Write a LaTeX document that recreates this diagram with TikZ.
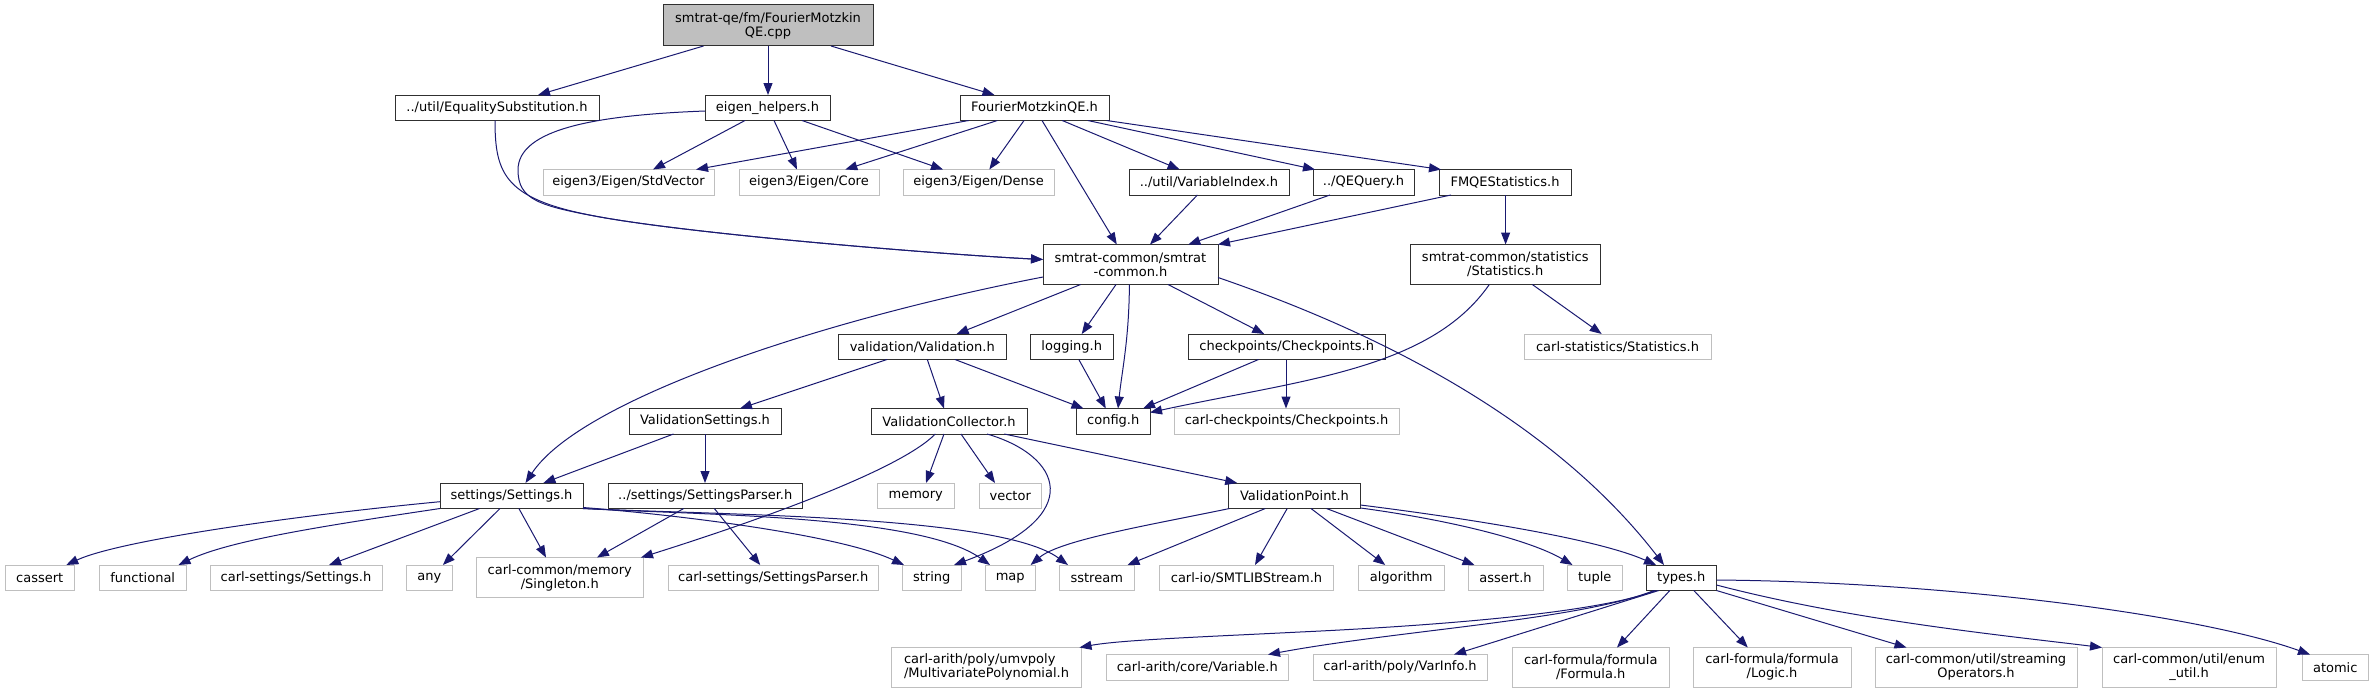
\documentclass[tikz,border=0pt]{standalone}
\usepackage{fontspec}
\setmainfont{DejaVu Sans}
\usetikzlibrary{arrows.meta}
\definecolor{edgec}{HTML}{191970}
\definecolor{greyb}{HTML}{BFBFBF}
\definecolor{bord}{HTML}{303030}
\tikzset{
  base/.style={rectangle, line width=1pt, inner sep=0pt, outer sep=0pt, font=\fontsize{13}{14}\selectfont, align=center, text=black},
  doc/.style={base, draw=bord},
  ext/.style={base, draw=greyb},
  rootn/.style={base, draw=bord, fill=greyb},
  e/.style={draw=edgec, line width=1pt, -{Triangle[length=12pt,width=9pt]}}
}
\newcommand\mynode[7]{\node[#1, minimum width={#4-#2}, minimum height={#5-#3}] (#6) at ({(#2+#4)/2},{(#3+#5)/2}) {#7};}
\begin{document}
\begin{tikzpicture}[x=1pt,y=-1pt]
\useasboundingbox (0,0) rectangle (2373,693);
% row 0
\mynode{rootn}{663}{5}{873}{46}{root}{smtrat-qe/fm/FourierMotzkin\\QE.cpp}
% row 1
\mynode{doc}{395}{95}{599}{120.5}{eq}{../util/EqualitySubstitution.h}
\mynode{doc}{705}{95}{830}{120.5}{eh}{eigen\_helpers.h}
\mynode{doc}{960}{95}{1109}{120.5}{fmqe}{FourierMotzkinQE.h}
% row 2
\mynode{ext}{543}{169.5}{714}{195}{stdv}{eigen3/Eigen/StdVector}
\mynode{ext}{739}{169.5}{879}{195}{core}{eigen3/Eigen/Core}
\mynode{ext}{903}{169.5}{1054}{195}{dense}{eigen3/Eigen/Dense}
\mynode{doc}{1129}{169.5}{1289}{195}{varidx}{../util/VariableIndex.h}
\mynode{doc}{1313}{169.5}{1414}{195}{qeq}{../QEQuery.h}
\mynode{doc}{1439}{169.5}{1571}{195}{fmst}{FMQEStatistics.h}
% row 3
\mynode{doc}{1043}{244.5}{1218}{284.5}{sc}{smtrat-common/smtrat\\-common.h}
\mynode{doc}{1410}{244.5}{1600.5}{284.5}{stat}{smtrat-common/statistics\\/Statistics.h}
% row 4
\mynode{doc}{838}{334}{1006.5}{359.5}{val}{validation/Validation.h}
\mynode{doc}{1030.5}{334}{1113}{359.5}{log}{logging.h}
\mynode{doc}{1188.5}{334}{1385}{359.5}{chk}{checkpoints/Checkpoints.h}
\mynode{ext}{1524}{334}{1711}{359.5}{cstat}{carl-statistics/Statistics.h}
% row 5
\mynode{doc}{629}{408.5}{781}{434}{vset}{ValidationSettings.h}
\mynode{doc}{871}{408.5}{1027}{434}{vcol}{ValidationCollector.h}
\mynode{doc}{1076.5}{408.5}{1150}{434}{cfg}{config.h}
\mynode{ext}{1174}{408.5}{1399}{434}{cchk}{carl-checkpoints/Checkpoints.h}
% row 6
\mynode{doc}{440}{483}{583}{508.5}{set}{settings/Settings.h}
\mynode{doc}{608}{483}{802.5}{508.5}{spar}{../settings/SettingsParser.h}
\mynode{ext}{877.5}{483}{954}{508.5}{mem}{memory}
\mynode{ext}{979.5}{483}{1041}{508.5}{vec}{vector}
\mynode{doc}{1228.5}{483}{1360.5}{508.5}{vpt}{ValidationPoint.h}
% row 7
\mynode{ext}{5}{565}{74.5}{590.5}{cassert}{cassert}
\mynode{ext}{99.5}{565}{186}{590.5}{functional}{functional}
\mynode{ext}{210}{565}{382}{590.5}{csset}{carl-settings/Settings.h}
\mynode{ext}{406}{565}{452.5}{590.5}{any}{any}
\mynode{ext}{476.5}{557.5}{643}{597.5}{single}{carl-common/memory\\/Singleton.h}
\mynode{ext}{668}{565}{878.5}{590.5}{cspar}{carl-settings/SettingsParser.h}
\mynode{ext}{902.5}{565}{961}{590.5}{string}{string}
\mynode{ext}{985}{565}{1035.5}{590.5}{map}{map}
\mynode{ext}{1059.5}{565}{1134}{590.5}{sstream}{sstream}
\mynode{ext}{1159.5}{565}{1333.5}{590.5}{smtlib}{carl-io/SMTLIBStream.h}
\mynode{ext}{1358.5}{565}{1444}{590.5}{algo}{algorithm}
\mynode{ext}{1468}{565}{1543}{590.5}{asserth}{assert.h}
\mynode{ext}{1567.5}{565}{1622}{590.5}{tuple}{tuple}
\mynode{doc}{1646}{565}{1716.5}{590.5}{types}{types.h}
% row 8
\mynode{ext, align=left}{891.5}{647.5}{1081.5}{687}{mvp}{carl-arith/poly/umvpoly\\/MultivariatePolynomial.h}
\mynode{ext}{1106}{654.5}{1288.5}{680}{var}{carl-arith/core/Variable.h}
\mynode{ext}{1313}{654.5}{1487}{680}{varinfo}{carl-arith/poly/VarInfo.h}
\mynode{ext}{1512}{647.5}{1669.5}{687}{formula}{carl-formula/formula\\/Formula.h}
\mynode{ext}{1693}{647.5}{1851}{687}{logic}{carl-formula/formula\\/Logic.h}
\mynode{ext}{1875}{647.5}{2077}{687}{stream}{carl-common/util/streaming\\Operators.h}
\mynode{ext}{2102}{647.5}{2276}{687}{enum}{carl-common/util/enum\\\_util.h}
\mynode{ext}{2302}{654.5}{2368.5}{680}{atomic}{atomic}

% edges
\draw[e] ([xshift=40.5pt]root.south west) -- ([xshift=143pt]eq.north west);
\draw[e] ([xshift=105pt]root.south west) -- ([xshift=63pt]eh.north west);
\draw[e] ([xshift=168pt]root.south west) -- ([xshift=34.5pt]fmqe.north west);

\draw[e] ([xshift=100pt]eq.south west) .. controls (495,175) and (505,200) .. (600,217) .. controls (700,235) and (950,255) .. ([yshift=-15pt]sc.north west);
\draw[e] ([yshift=-16pt]eh.north west) .. controls (600,115) and (518,128) .. (518,170) .. controls (518,200) and (540,206) .. (600,217) .. controls (700,235) and (950,255) .. ([yshift=-15pt]sc.north west);

\draw[e] ([xshift=40pt]eh.south west) -- ([xshift=110pt]stdv.north west);
\draw[e] ([xshift=69pt]eh.south west) -- ([xshift=58pt]core.north west);
\draw[e] ([xshift=97pt]eh.south west) -- ([xshift=40pt]dense.north west);

\draw[e] ([xshift=8.7pt]fmqe.south west) -- ([xshift=153pt]stdv.north west);
\draw[e] ([xshift=37.4pt]fmqe.south west) -- ([xshift=106.3pt]core.north west);
\draw[e] ([xshift=64pt]fmqe.south west) -- ([xshift=86.3pt]dense.north west);
\draw[e] ([xshift=82pt]fmqe.south west) -- ([xshift=73.8pt]sc.north west);
\draw[e] ([xshift=102.2pt]fmqe.south west) -- ([xshift=50.6pt]varidx.north west);
\draw[e] ([xshift=127.8pt]fmqe.south west) -- ([xshift=2pt]qeq.north west);
\draw[e] ([xshift=146.6pt]fmqe.south west) -- ([xshift=2pt]fmst.north west);

\draw[e] ([xshift=68.4pt]varidx.south west) -- ([xshift=107pt]sc.north west);
\draw[e] ([xshift=17pt]qeq.south west) -- ([xshift=145.3pt]sc.north west);
\draw[e] ([xshift=12pt]fmst.south west) -- (sc.north east);
\draw[e] ([xshift=66.6pt]fmst.south west) -- ([xshift=95.6pt]stat.north west);

\draw[e] ([yshift=-32.5pt]sc.north west) .. controls (820,320) and (580,400) .. ([xshift=85.5pt]set.north west);
\draw[e] ([xshift=37.6pt]sc.south west) -- ([xshift=118.6pt]val.north west);
\draw[e] ([xshift=73pt]sc.south west) -- ([xshift=51.2pt]log.north west);
\draw[e] ([xshift=86.4pt]sc.south west) .. controls (1129,340) and (1122,370) .. ([xshift=41.5pt]cfg.north west);
\draw[e] ([xshift=125pt]sc.south west) -- ([xshift=75.7pt]chk.north west);
\draw[e] ([yshift=-33pt]sc.north east) .. controls (1400,340) and (1560,430) .. ([xshift=18pt]types.north west);

\draw[e] ([xshift=79.3pt]stat.south west) .. controls (1430,370) and (1300,380) .. ([yshift=-4pt]cfg.north east);
\draw[e] ([xshift=122.3pt]stat.south west) -- ([xshift=77.7pt]cstat.north west);

\draw[e] ([xshift=49pt]val.south west) -- ([xshift=111pt]vset.north west);
\draw[e] ([xshift=89.3pt]val.south west) -- ([xshift=73pt]vcol.north west);
\draw[e] ([xshift=117pt]val.south west) -- ([xshift=7pt]cfg.north west);
\draw[e] ([xshift=48.3pt]log.south west) -- ([xshift=29.3pt]cfg.north west);
\draw[e] ([xshift=70pt]chk.south west) -- ([xshift=66.5pt]cfg.north west);
\draw[e] ([xshift=97.5pt]chk.south west) -- ([xshift=112pt]cchk.north west);

\draw[e] ([xshift=44.5pt]vset.south west) -- ([xshift=103.4pt]set.north west);
\draw[e] ([xshift=76pt]vset.south west) -- ([xshift=97pt]spar.north west);

\draw[e] ([xshift=64.3pt]vcol.south west) .. controls (900,470) and (760,520) .. ([xshift=-2pt]single.north east);
\draw[e] ([xshift=73pt]vcol.south west) -- ([xshift=48.5pt]mem.north west);
\draw[e] ([xshift=90pt]vcol.south west) -- ([xshift=15.5pt]vec.north west);
\draw[e] ([xshift=116pt]vcol.south west) .. controls (1060,455) and (1090,515) .. ([xshift=51.5pt]string.north west);
\draw[e] ([xshift=133.2pt]vcol.south west) -- ([xshift=8.7pt]vpt.north west);

\draw[e] ([yshift=-18.7pt]set.north west) .. controls (300,515) and (120,540) .. ([xshift=61.3pt]cassert.north west);
\draw[e] (set.south west) .. controls (330,525) and (230,540) .. ([xshift=79pt]functional.north west);
\draw[e] ([xshift=39.6pt]set.south west) -- ([xshift=119pt]csset.north west);
\draw[e] ([xshift=60pt]set.south west) -- ([xshift=36.9pt]any.north west);
\draw[e] ([xshift=78.9pt]set.south west) -- ([xshift=69.5pt]single.north west);
\draw[e] ([yshift=1pt]set.south east) .. controls (680,515) and (840,535) .. ([xshift=1.5pt]string.north west);
\draw[e] (set.south east) .. controls (700,515) and (920,515) .. ([xshift=5pt]map.north west);
\draw[e] (set.south east) .. controls (720,515) and (1000,515) .. ([xshift=8.5pt]sstream.north west);

\draw[e] ([xshift=75.7pt]spar.south west) -- ([xshift=120.5pt]single.north west);
\draw[e] ([xshift=106.3pt]spar.south west) -- ([xshift=92.2pt]cspar.north west);

\draw[e] ([xshift=1pt]vpt.south west) .. controls (1150,525) and (1060,540) .. ([xshift=45.6pt]map.north west);
\draw[e] ([xshift=36.8pt]vpt.south west) -- ([xshift=68pt]sstream.north west);
\draw[e] ([xshift=58.7pt]vpt.south west) -- ([xshift=95.5pt]smtlib.north west);
\draw[e] ([xshift=82.5pt]vpt.south west) -- ([xshift=26.7pt]algo.north west);
\draw[e] ([xshift=98pt]vpt.south west) -- ([xshift=6.5pt]asserth.north west);
\draw[e] ([yshift=0.5pt]vpt.south east) .. controls (1450,520) and (1530,540) .. ([xshift=5pt]tuple.north west);
\draw[e] ([yshift=-22pt]vpt.north east) .. controls (1480,520) and (1600,540) .. ([xshift=10pt]types.north west);

\draw[e] ([xshift=10pt]types.south west) .. controls (1600,612) and (1450,625) .. (1300,632) .. controls (1200,637) and (1120,640) .. ([xshift=-2pt]mvp.north east);
\draw[e] ([xshift=8pt]types.south west) .. controls (1580,620) and (1400,630) .. ([xshift=162pt]var.north west);
\draw[e] ([xshift=12.7pt]types.south west) -- ([xshift=141pt]varinfo.north west);
\draw[e] ([xshift=23.8pt]types.south west) -- ([xshift=105pt]formula.north west);
\draw[e] ([xshift=47.8pt]types.south west) -- ([xshift=54.8pt]logic.north west);
\draw[e] (types.south east) -- ([xshift=31.5pt]stream.north west);
\draw[e] ([yshift=-20pt]types.north east) .. controls (1850,620) and (2000,635) .. (enum.north west);
\draw[e] ([yshift=-15pt]types.north east) .. controls (1950,582) and (2200,615) .. ([xshift=8pt]atomic.north west);
\end{tikzpicture}
\end{document}
